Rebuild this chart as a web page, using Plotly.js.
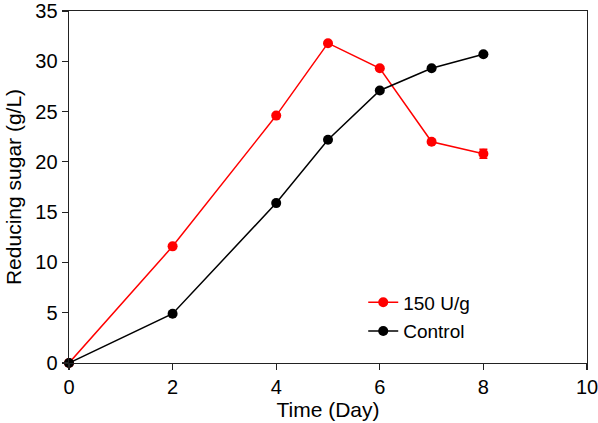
<!DOCTYPE html>
<html>
<head>
<meta charset="utf-8">
<script src="https://cdn.plot.ly/plotly-3.0.1.min.js"></script>
<style>html,body{margin:0;padding:0;background:#fff;}#chart{width:598px;height:423px;}</style>
</head>
<body>
<div id="chart"></div>
<script>
const days = [0, 2, 4, 5, 6, 7, 8];
const enzyme150 = [0, 11.6, 24.6, 31.8, 29.3, 22.0, 20.8];
const enzyme150Err = [0, 0, 0, 0, 0, 0, 0.45];
const control = [0, 4.9, 15.9, 22.2, 27.1, 29.3, 30.7];
const controlErr = [0, 0, 0, 0, 0, 0, 0];
const xTicks = [0, 2, 4, 6, 8, 10];
const yTicks = [0, 5, 10, 15, 20, 25, 30, 35];

const font = 'Liberation Sans, Arial, sans-serif';

const traces = [
  {
    x: days, y: enzyme150, name: '150 U/g', type: 'scatter', mode: 'lines+markers',
    line: {color: '#ff0000', width: 1.5},
    marker: {color: '#ff0000', size: 10},
    error_y: {type: 'data', array: enzyme150Err, visible: true, color: '#ff0000', thickness: 1.5, width: 4},
    legendgroup: 'a', cliponaxis: false
  },
  {
    x: days, y: control, name: 'Control', type: 'scatter', mode: 'lines+markers',
    line: {color: '#000000', width: 1.5},
    marker: {color: '#000000', size: 10},
    error_y: {type: 'data', array: controlErr, visible: true, color: '#000000', thickness: 1.5, width: 4},
    legendgroup: 'b', cliponaxis: false
  }
];

const axisCommon = {
  showline: true, linecolor: '#222', linewidth: 1.4, mirror: true,
  ticks: 'outside', ticklen: 6, tickwidth: 1.2, tickcolor: '#222',
  showgrid: false, zeroline: false, ticklabeloverflow: 'allow',
  tickfont: {family: font, size: 20, color: '#000'}
};

const layout = {
  width: 598, height: 423,
  margin: {l: 69, r: 11, t: 11, b: 60},
  paper_bgcolor: '#fff', plot_bgcolor: '#fff',
  showlegend: true,
  legend: {
    x: 0.568, y: 0.226, xanchor: 'left', yanchor: 'top',
    bgcolor: 'rgba(0,0,0,0)', font: {family: font, size: 19, color: '#000'},
    tracegroupgap: 1, traceorder: 'grouped'
  },
  xaxis: Object.assign({}, axisCommon, {
    range: [0, 10], tickvals: xTicks,
    title: {text: 'Time (Day)', font: {family: font, size: 21, color: '#000'}, standoff: 4}
  }),
  yaxis: Object.assign({}, axisCommon, {
    range: [0, 35], tickvals: yTicks,
    title: {text: 'Reducing sugar (g/L)', font: {family: font, size: 21, color: '#000'}, standoff: 8}
  })
};

Plotly.newPlot('chart', traces, layout, {displayModeBar: false, staticPlot: true});
</script>
</body>
</html>
